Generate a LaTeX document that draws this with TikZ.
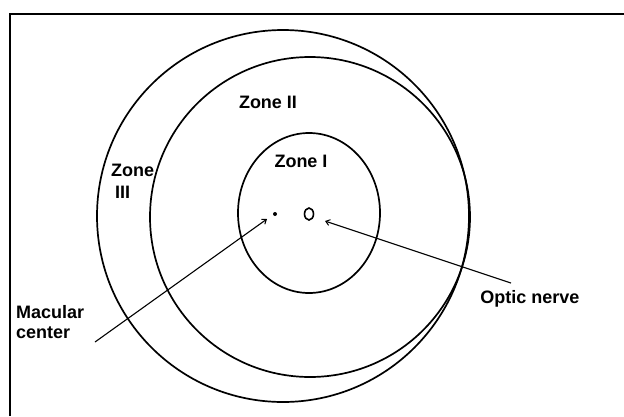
\documentclass[tikz,border=0pt]{standalone}
\usepackage{fontspec}
\setmainfont{Liberation Sans}
\usetikzlibrary{arrows.meta}
\begin{document}
\begin{tikzpicture}[x=1pt,y=-1pt,
  zone/.style={line width=1.7pt},
  lbl/.style={font=\fontsize{18}{20}\selectfont\bfseries, inner sep=0pt},
  pointer/.style={line width=1.1pt, -{Straight Barb[length=4pt,width=6pt,line width=1pt]}}]
\useasboundingbox (0,0) rectangle (624,416);
\fill[white] (0,0) rectangle (624,416);
% frame
\draw[line width=2pt] (9.5,416) -- (9.5,13.5) -- (624,13.5);
% zones
\draw[zone] (283,216) circle[radius=186pt];
\draw[zone] (310,217) circle[radius=160pt];
\draw[zone] (309,213) ellipse[x radius=71pt, y radius=80pt];
% optic disc and macula
\draw[line width=1.6pt] (309,214) ellipse[x radius=4.5pt, y radius=6pt];
\fill (275,214) circle[radius=2pt];
\coordinate (mac) at (267,219);
\coordinate (opt) at (325,221);
\coordinate (macstart) at (95,342);
\coordinate (optstart) at (511,283);
% labels
\node[lbl] (z2) at (268,102) {Zone II};
\node[lbl] (z1) at (301,161) {Zone I};
\node[lbl, align=left, anchor=north west, font=\fontsize{18}{22}\selectfont\bfseries] (z3) at (111,164) {Zone\\\hspace*{4pt}III};
\node[lbl, align=left, anchor=north west, font=\fontsize{18}{20}\selectfont\bfseries] (mc) at (16,305) {Macular\\center};
\node[lbl] (on) at (530,299) {Optic nerve};
% pointers
\draw[pointer] (macstart) -- (mac);
\draw[pointer] (optstart) -- (opt);
\end{tikzpicture}
\end{document}
